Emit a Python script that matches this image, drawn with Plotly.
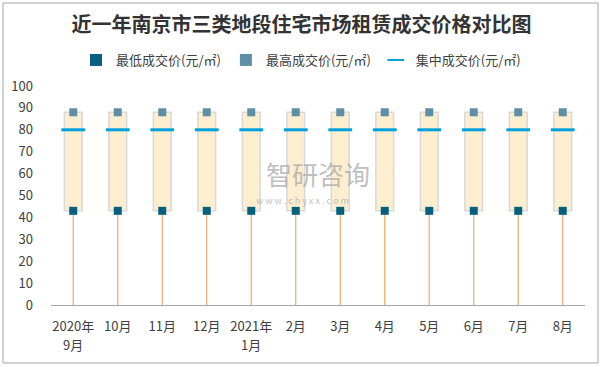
import plotly.graph_objects as go

categories = ["2020年9月", "2020年10月", "2020年11月", "2020年12月", "2021年1月", "2021年2月",
              "2021年3月", "2021年4月", "2021年5月", "2021年6月", "2021年7月", "2021年8月"]
tick_line1 = ["2020年", "10月", "11月", "12月", "2021年", "2月", "3月", "4月", "5月", "6月", "7月", "8月"]
tick_line2 = ["9月", "", "", "", "1月", "", "", "", "", "", "", ""]
low_price = [43, 43, 43, 43, 43, 43, 43, 43, 43, 43, 43, 43]
high_price = [88, 88, 88, 88, 88, 88, 88, 88, 88, 88, 88, 88]
mid_price = [80, 80, 80, 80, 80, 80, 80, 80, 80, 80, 80, 80]

FONT = "Noto Sans CJK SC"
fig = go.Figure()

# drop lines from 0 to low
fig.add_trace(go.Scatter(
    x=categories, y=low_price, mode="markers",
    marker=dict(size=1, color="rgba(0,0,0,0)"),
    error_y=dict(type="data", symmetric=False, array=[0]*len(low_price),
                 arrayminus=low_price, color="#F0A868", thickness=1.2, width=0),
    showlegend=False, hoverinfo="skip"))

# up-down box
fig.add_trace(go.Bar(
    x=categories, y=[h - l for h, l in zip(high_price, low_price)], base=low_price,
    width=0.4, marker=dict(color="#FCEECE", line=dict(color="#D9D9D9", width=1.5)),
    showlegend=False, hoverinfo="skip"))

fig.add_trace(go.Scatter(
    x=categories, y=low_price, mode="markers", name="最低成交价(元/㎡)",
    marker=dict(symbol="square", size=8, color="#05607E")))
fig.add_trace(go.Scatter(
    x=categories, y=high_price, mode="markers", name="最高成交价(元/㎡)",
    marker=dict(symbol="square", size=8, color="#5F8FA6")))
fig.add_trace(go.Scatter(
    x=categories, y=mid_price, mode="markers", name="集中成交价(元/㎡)",
    marker=dict(symbol="line-ew", size=17, line=dict(width=3, color="#00A0DC"), color="#00A0DC")))

W, H = 603, 367
L, R, T, B = 51, 18, 86, 62
pw, ph = W - L - R, H - T - B

def px2x(p):
    return (p - L) / pw

def py2y(p):
    return (H - B - p) / ph

annotations = [
    dict(text="智研咨询", xref="paper", yref="paper", x=px2x(318), y=py2y(173),
         showarrow=False, font=dict(size=26, color="rgba(170,170,170,0.75)")),
    dict(text="w w w . c h y x x . c o m", xref="paper", yref="paper", x=px2x(302), y=py2y(200),
         showarrow=False, font=dict(size=9, color="rgba(170,170,170,0.75)")),
]
for cat, t2 in zip(categories, tick_line2):
    if t2:
        annotations.append(dict(text=t2, xref="x", yref="paper", x=cat, y=py2y(344),
                                showarrow=False, yanchor="middle",
                                font=dict(size=13, color="#404040")))

fig.update_layout(
    width=W, height=H,
    margin=dict(l=L, r=R, t=T, b=B, autoexpand=False),
    paper_bgcolor="white", plot_bgcolor="white",
    font=dict(family=FONT, size=12, color="#404040"),
    title=dict(text="<b>近一年南京市三类地段住宅市场租赁成交价格对比图</b>",
               x=0.5, xanchor="center", y=1 - 25 / H, yanchor="middle",
               font=dict(family=FONT, size=20, color="#333333")),
    legend=dict(orientation="h", x=px2x(301), xanchor="center", y=py2y(60), yanchor="middle",
                font=dict(size=13, color="#404040"), itemsizing="constant",
                bgcolor="rgba(0,0,0,0)"),
    xaxis=dict(range=[-0.5, len(categories) - 0.5], showgrid=False, showline=True,
               linecolor="#A6A6A6", linewidth=1, ticklabelstandoff=9,
               tickvals=categories, ticktext=tick_line1,
               ticks="", tickfont=dict(size=13, color="#404040"), fixedrange=True,
               automargin=False),
    yaxis=dict(range=[0, 100], dtick=10, showgrid=False, showline=False, zeroline=False,
               ticks="", tickfont=dict(size=13, color="#404040"), ticklabelstandoff=17,
               automargin=False),
    shapes=[dict(type="rect", xref="paper", yref="paper",
                 x0=px2x(3), x1=px2x(598), y0=py2y(363), y1=py2y(3),
                 line=dict(color="#A6A6A6", width=1), fillcolor="rgba(0,0,0,0)", layer="below")],
    annotations=annotations,
)

fig.write_html("out.html", config={"displayModeBar": False},
               post_script="document.body.style.margin='0';")
